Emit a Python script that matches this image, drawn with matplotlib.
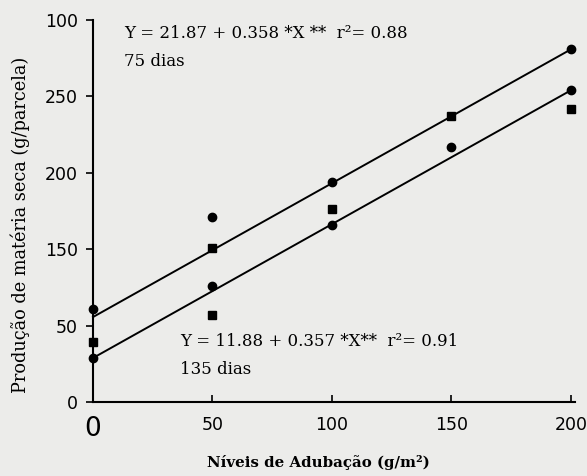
import matplotlib
matplotlib.use("Agg")
import matplotlib.pyplot as plt
import numpy as np

# ---- data (y in axis-position units) ----
x_ticks = [0, 50, 100, 150, 200]
x_tick_labels = ["0", "50", "100", "150", "200"]
y_ticks = [0, 50, 100, 150, 200, 250]
y_tick_labels = ["0", "50", "150", "200", "250", "100"]

circle_x = [0, 0, 50, 50, 100, 100, 150, 200, 200]
circle_y = [61, 29, 121, 76, 144, 116, 167, 231, 204]
square_x = [0, 50, 50, 100, 150, 200]
square_y = [39, 101, 57, 126, 187, 192]

line_intercepts = [55.6, 28.8]
line_slopes = [0.876, 0.876]
line_x = [0, 200]

eq_75 = "Y = 21.87 + 0.358 *X **  r\u00b2= 0.88"
lab_75 = "75 dias"
eq_135 = "Y = 11.88 + 0.357 *X**  r\u00b2= 0.91"
lab_135 = "135 dias"

bg = "#ececea"
fig = plt.figure(figsize=(5.87, 4.76), dpi=100, facecolor=bg)
ax = fig.add_axes([93/587, 1-402/476, (575-93)/587, (402-20)/476])
ax.set_facecolor(bg)

for b, m in zip(line_intercepts, line_slopes):
    xs = np.array(line_x, dtype=float)
    ax.plot(xs, b + m*xs, color="black", lw=1.4, clip_on=False)

ax.plot(circle_x, circle_y, "o", color="black", ms=6, clip_on=False)
ax.plot(square_x, square_y, "s", color="black", ms=5.5, clip_on=False)

ax.set_xlim(0, 201.7)
ax.set_ylim(0, 250)
for s in ["top", "right"]:
    ax.spines[s].set_visible(False)
for s in ["left", "bottom"]:
    ax.spines[s].set_linewidth(1.5)

ax.set_xticks(x_ticks)
ax.set_xticklabels(x_tick_labels, fontsize=12.5, family="DejaVu Sans")
ax.get_xticklabels()[0].set_fontsize(19)
ax.set_yticks(y_ticks)
ax.set_yticklabels(y_tick_labels, fontsize=12.5, family="DejaVu Sans")
ax.tick_params(axis="x", direction="in", length=5, width=1.2, pad=10)
ax.tick_params(axis="y", direction="out", length=5, width=1.2, pad=6)

serif = "DejaVu Serif"
fig.text(124/587, 1-33/476, eq_75, fontsize=12, family=serif, va="center")
fig.text(124/587, 1-61/476, lab_75, fontsize=12, family=serif, va="center")
fig.text(180/587, 1-342/476, eq_135, fontsize=12, family=serif, va="center")
fig.text(180/587, 1-369/476, lab_135, fontsize=12, family=serif, va="center")

fig.text(318/587, 1-462/476, "N\u00edveis de Aduba\u00e7\u00e3o (g/m\u00b2)", fontsize=10.8,
         family=serif, fontweight="bold", ha="center", va="center")
fig.text(20/587, 1-225/476, "Produ\u00e7\u00e3o de mat\u00e9ria seca (g/parcela)", fontsize=12.8,
         family=serif, ha="center", va="center", rotation=90)

fig.savefig("out.png", dpi=100, facecolor=bg)
